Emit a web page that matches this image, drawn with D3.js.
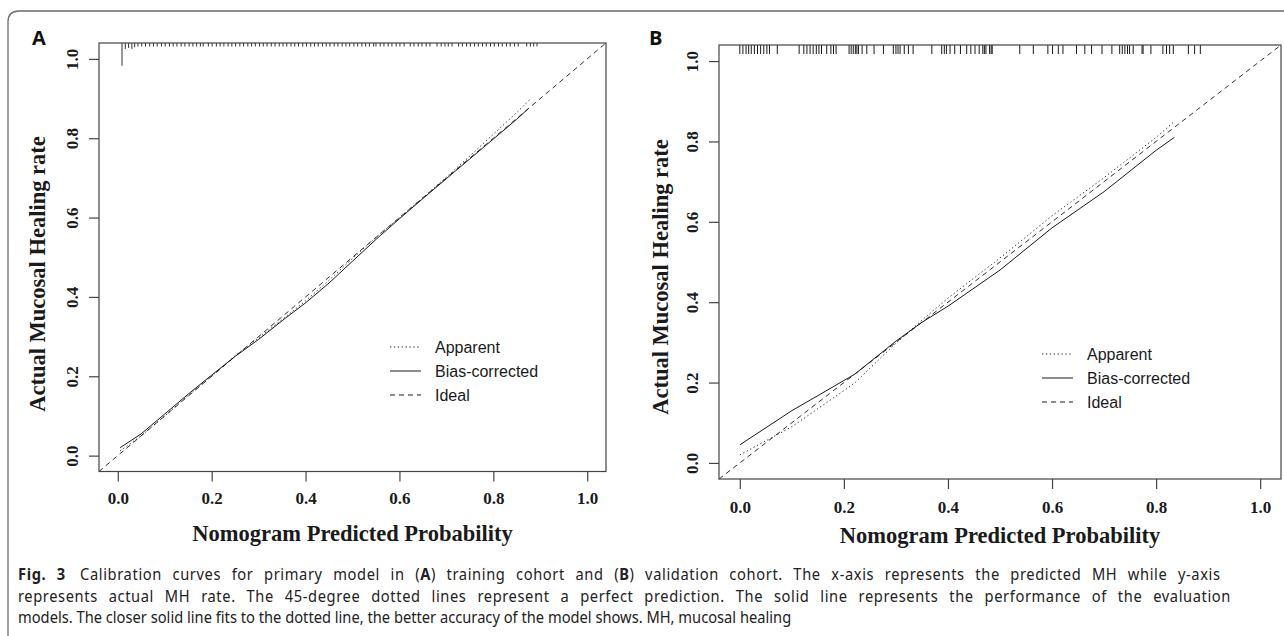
<!DOCTYPE html>
<html>
<head>
<meta charset="utf-8">
<script src="https://cdn.jsdelivr.net/npm/d3@7"></script>
<style>
  body { margin: 0; background: #fff; }
  svg { display: block; }
</style>
</head>
<body>
<svg id="fig" width="1284" height="636"></svg>
<script>
// ---- data ----
var ticks = [0, 0.2, 0.4, 0.6, 0.8, 1.0];
var legendKeys = ["Apparent", "Bias-corrected", "Ideal"];

// panel A (training cohort)
var aX = [0.005, 0.05, 0.1, 0.15, 0.2, 0.25, 0.3, 0.35, 0.4, 0.45, 0.5, 0.55, 0.6, 0.65, 0.7, 0.75, 0.8, 0.85, 0.875];
var aBias = [0.02, 0.055, 0.105, 0.155, 0.203, 0.25, 0.293, 0.34, 0.385, 0.435, 0.49, 0.545, 0.597, 0.648, 0.698, 0.748, 0.798, 0.848, 0.875];
var aAppX = [0.005, 0.05, 0.1, 0.15, 0.2, 0.25, 0.3, 0.35, 0.4, 0.45, 0.5, 0.55, 0.6, 0.65, 0.7, 0.75, 0.8, 0.85, 0.88];
var aApp = [0.012, 0.05, 0.1, 0.152, 0.2, 0.252, 0.297, 0.343, 0.39, 0.442, 0.497, 0.55, 0.6, 0.65, 0.702, 0.755, 0.81, 0.865, 0.9];
var rugA = [0.043, 0.051, 0.059, 0.068, 0.076, 0.084, 0.093, 0.101, 0.110, 0.118, 0.126, 0.135, 0.143, 0.152,
    0.160, 0.168, 0.176, 0.182, 0.193, 0.201, 0.210, 0.218, 0.226, 0.235, 0.243, 0.251, 0.260, 0.268, 0.277,
    0.285, 0.293, 0.302, 0.310, 0.318, 0.327, 0.335, 0.344, 0.352, 0.360, 0.369, 0.377, 0.385, 0.394, 0.402,
    0.411, 0.419, 0.427, 0.436, 0.444, 0.452, 0.461, 0.469, 0.478, 0.486, 0.494, 0.503, 0.511, 0.520, 0.528,
    0.536, 0.545, 0.550, 0.559, 0.567, 0.576, 0.584, 0.593, 0.601, 0.610, 0.623, 0.631, 0.640, 0.648, 0.657,
    0.665, 0.680, 0.689, 0.697, 0.704, 0.712, 0.726, 0.734, 0.743, 0.751, 0.760, 0.768, 0.777, 0.785, 0.794,
    0.802, 0.811, 0.819, 0.828, 0.836, 0.845, 0.853, 0.871, 0.879, 0.886, 0.893];
var spikeA = [0.009, 0.016, 0.023, 0.030, 0.036];
var spikeAn = [6.5, 1.7, 1.4, 1.7, 1.2];

// panel B (validation cohort)
var bX = [0.0, 0.1, 0.2, 0.22, 0.3, 0.35, 0.4, 0.5, 0.6, 0.7, 0.8, 0.835];
var bBias = [0.045, 0.13, 0.205, 0.22, 0.303, 0.35, 0.39, 0.48, 0.585, 0.675, 0.778, 0.81];
var bApp = [0.02, 0.09, 0.18, 0.198, 0.298, 0.355, 0.41, 0.51, 0.615, 0.71, 0.81, 0.85];
var rugB = [0.000, 0.006, 0.012, 0.017, 0.022, 0.028, 0.034, 0.040, 0.046, 0.052, 0.057, 0.072, 0.114, 0.123,
    0.129, 0.135, 0.141, 0.147, 0.152, 0.157, 0.167, 0.175, 0.180, 0.185, 0.210, 0.214, 0.218, 0.222, 0.225,
    0.228, 0.235, 0.244, 0.258, 0.276, 0.295, 0.300, 0.304, 0.308, 0.316, 0.324, 0.333, 0.369, 0.388, 0.393,
    0.397, 0.404, 0.413, 0.424, 0.436, 0.444, 0.452, 0.460, 0.467, 0.470, 0.473, 0.480, 0.483, 0.485, 0.538,
    0.564, 0.592, 0.601, 0.612, 0.621, 0.647, 0.663, 0.676, 0.696, 0.715, 0.730, 0.735, 0.740, 0.745, 0.749,
    0.756, 0.773, 0.775, 0.790, 0.813, 0.820, 0.826, 0.833, 0.862, 0.874, 0.885];

var captionLines = [
    [["Fig. 3", true], [" Calibration curves for primary model in (", false], ["A", true], [") training cohort and (", false], ["B", true],
     [") validation cohort. The x-axis represents the predicted MH while y-axis", false]],
    [["represents actual MH rate. The 45-degree dotted lines represent a perfect prediction. The solid line represents the performance of the evaluation", false]],
    [["models. The closer solid line fits to the dotted line, the better accuracy of the model shows. MH, mucosal healing", false]]
];
var captionEnds = [1218, 1232, 792];   // right end of each caption line (last one is ragged)

var svg = d3.select("#fig");
var ink = "#1a1a1a";

// outer rounded frame of the figure
svg.append("path")
    .attr("d", "M8,636 L8,22 Q8,11 19,11 L1284,11")
    .attr("fill", "none").attr("stroke", "#6b6b6b").attr("stroke-width", 1.3);

var dashStyle = {"Apparent": "1.3,2.6", "Bias-corrected": null, "Ideal": "5,4"};
var serif = "'Liberation Serif', 'Times New Roman', serif";

function drawPanel(cfg) {
    var x = d3.scaleLinear().domain([-0.04, 1.04]).range([cfg.left, cfg.right]);
    var y = d3.scaleLinear().domain([-0.04, 1.04]).range([cfg.bottom, cfg.top]);
    var g = svg.append("g");

    // ideal diagonal
    g.append("line")
        .attr("x1", x(-0.04)).attr("y1", y(-0.04)).attr("x2", x(1.04)).attr("y2", y(1.04))
        .attr("stroke", ink).attr("stroke-width", 0.9).attr("stroke-dasharray", dashStyle["Ideal"]);

    var line = d3.line().x(function (d) { return x(d[0]); }).y(function (d) { return y(d[1]); });
    g.append("path")
        .datum(d3.zip(cfg.appX, cfg.app))
        .attr("d", line).attr("fill", "none")
        .attr("stroke", ink).attr("stroke-width", 0.9).attr("stroke-dasharray", dashStyle["Apparent"]);
    g.append("path")
        .datum(d3.zip(cfg.biasX, cfg.bias))
        .attr("d", line).attr("fill", "none")
        .attr("stroke", ink).attr("stroke-width", 1);

    // rug of predicted values along the top
    g.selectAll(".rug")
        .data(cfg.rug)
        .enter().append("line")
        .attr("x1", function (d) { return x(d); }).attr("x2", function (d) { return x(d); })
        .attr("y1", cfg.top).attr("y2", cfg.top + cfg.rugLen)
        .attr("stroke", ink).attr("stroke-width", cfg.rugW);
    if (cfg.spikes) {
        g.selectAll(".spike")
            .data(d3.zip(cfg.spikes, cfg.spikesN))
            .enter().append("line")
            .attr("x1", function (d) { return x(d[0]); }).attr("x2", function (d) { return x(d[0]); })
            .attr("y1", cfg.top).attr("y2", function (d) { return cfg.top + cfg.rugLen * d[1]; })
            .attr("stroke", ink).attr("stroke-width", cfg.rugW);
    }

    // box
    g.append("rect")
        .attr("x", cfg.left).attr("y", cfg.top)
        .attr("width", cfg.right - cfg.left).attr("height", cfg.bottom - cfg.top)
        .attr("fill", "none").attr("stroke", "#444").attr("stroke-width", 1.2);

    // axes
    var xa = g.append("g")
        .attr("transform", "translate(0," + cfg.bottom + ")")
        .call(d3.axisBottom(x).tickValues(ticks).tickFormat(d3.format(".1f")).tickSize(10).tickPadding(cfg.xPad));
    var ya = g.append("g")
        .attr("transform", "translate(" + cfg.left + ",0)")
        .call(d3.axisLeft(y).tickValues(ticks).tickFormat(d3.format(".1f")).tickSize(10));
    [xa, ya].forEach(function (a) {
        a.select(".domain").remove();
        a.selectAll(".tick line").attr("stroke", "#444").attr("stroke-width", 1.2);
        a.selectAll("text")
            .attr("fill", ink)
            .style("font-family", serif)
            .style("font-weight", "bold")
            .style("font-size", "17px");
    });
    ya.selectAll("text")
        .attr("x", null).attr("dy", null)
        .attr("text-anchor", "middle")
        .attr("transform", "translate(-21,0) rotate(-90)");

    // axis titles
    g.append("text")
        .attr("x", (cfg.left + cfg.right) / 2).attr("y", cfg.xTitleY)
        .attr("text-anchor", "middle")
        .style("font-family", serif)
        .style("font-weight", "bold").style("font-size", "22.5px").attr("fill", ink)
        .text("Nomogram Predicted Probability");
    g.append("text")
        .attr("transform", "translate(" + cfg.yTitleX + "," + cfg.yTitleY + ") rotate(-90)")
        .attr("text-anchor", "middle")
        .style("font-family", serif)
        .style("font-weight", "bold").style("font-size", "22.5px").attr("fill", ink)
        .text("Actual Mucosal Healing rate");

    // legend
    var lg = g.append("g")
        .selectAll("g")
        .data(legendKeys)
        .enter().append("g")
        .attr("transform", function (d, i) { return "translate(" + cfg.legX + "," + (cfg.legY + i * 24) + ")"; });
    lg.append("line")
        .attr("x1", 0).attr("x2", 31).attr("y1", 0).attr("y2", 0)
        .attr("stroke", ink).attr("stroke-width", 1)
        .attr("stroke-dasharray", function (d) { return dashStyle[d]; });
    lg.append("text")
        .attr("x", 45).attr("y", 0).attr("dy", "0.35em")
        .style("font-family", "'Liberation Sans', Arial, sans-serif")
        .style("font-size", "16px").attr("fill", ink)
        .text(function (d) { return d; });

    // panel letter
    svg.append("text")
        .attr("x", cfg.letterX).attr("y", 45)
        .style("font-family", "'Open Sans', 'Noto Sans', sans-serif")
        .style("font-weight", "bold").style("font-size", "20px").attr("fill", "#111")
        .text(cfg.letter);
}

drawPanel({
    letter: "A", letterX: 32,
    left: 99, right: 606, top: 43, bottom: 471.5,
    appX: aAppX, app: aApp, biasX: aX, bias: aBias,
    rug: rugA, rugLen: 3.5, rugW: 0.9, spikes: spikeA, spikesN: spikeAn,
    xPad: 10, xTitleY: 541, yTitleX: 45, yTitleY: 274,
    legX: 390, legY: 347
});

drawPanel({
    letter: "B", letterX: 649,
    left: 719, right: 1281, top: 45, bottom: 479,
    appX: bX, app: bApp, biasX: bX, bias: bBias,
    rug: rugB, rugLen: 9, rugW: 1, spikes: null,
    xPad: 12, xTitleY: 543, yTitleX: 668, yTitleY: 277,
    legX: 1042, legY: 354
});

// caption: glyphs condensed to fit the ragged last line; the first two lines are
// justified, the slack spread over letter and word spacing
var capX = 18;
var cap = svg.append("g")
    .style("font-family", "'Noto Sans', 'Open Sans', sans-serif")
    .style("font-size", "16px").attr("fill", "#222");
var capTexts = captionLines.map(function (parts, i) {
    var t = cap.append("text")
        .attr("x", 0).attr("y", 0)
        .attr("transform", "translate(" + capX + "," + (580 + i * 21.5) + ")");
    parts.forEach(function (p, j) {
        t.append("tspan")
            .attr("font-weight", p[1] ? "bold" : "normal")
            .attr("dx", (i === 0 && j === 1) ? 4 : null)
            .text(p[0]);
    });
    return t;
});
var natural = capTexts.map(function (t) { return t.node().getComputedTextLength(); });
var squeeze = Math.min(1, (captionEnds[2] - capX) / natural[2]);
capTexts.forEach(function (t, i) {
    var full = captionLines[i].map(function (p) { return p[0]; }).join("");
    var spaces = (full.match(/ /g) || []).length;
    t.attr("transform", t.attr("transform") + " scale(" + squeeze + ",1)");
    if (i < 2) {
        var extra = Math.max(0, (captionEnds[i] - capX) / squeeze - natural[i]);
        t.attr("letter-spacing", 0.4 * extra / full.length)
         .attr("word-spacing", 0.6 * extra / spaces);
    }
});
</script>
</body>
</html>
